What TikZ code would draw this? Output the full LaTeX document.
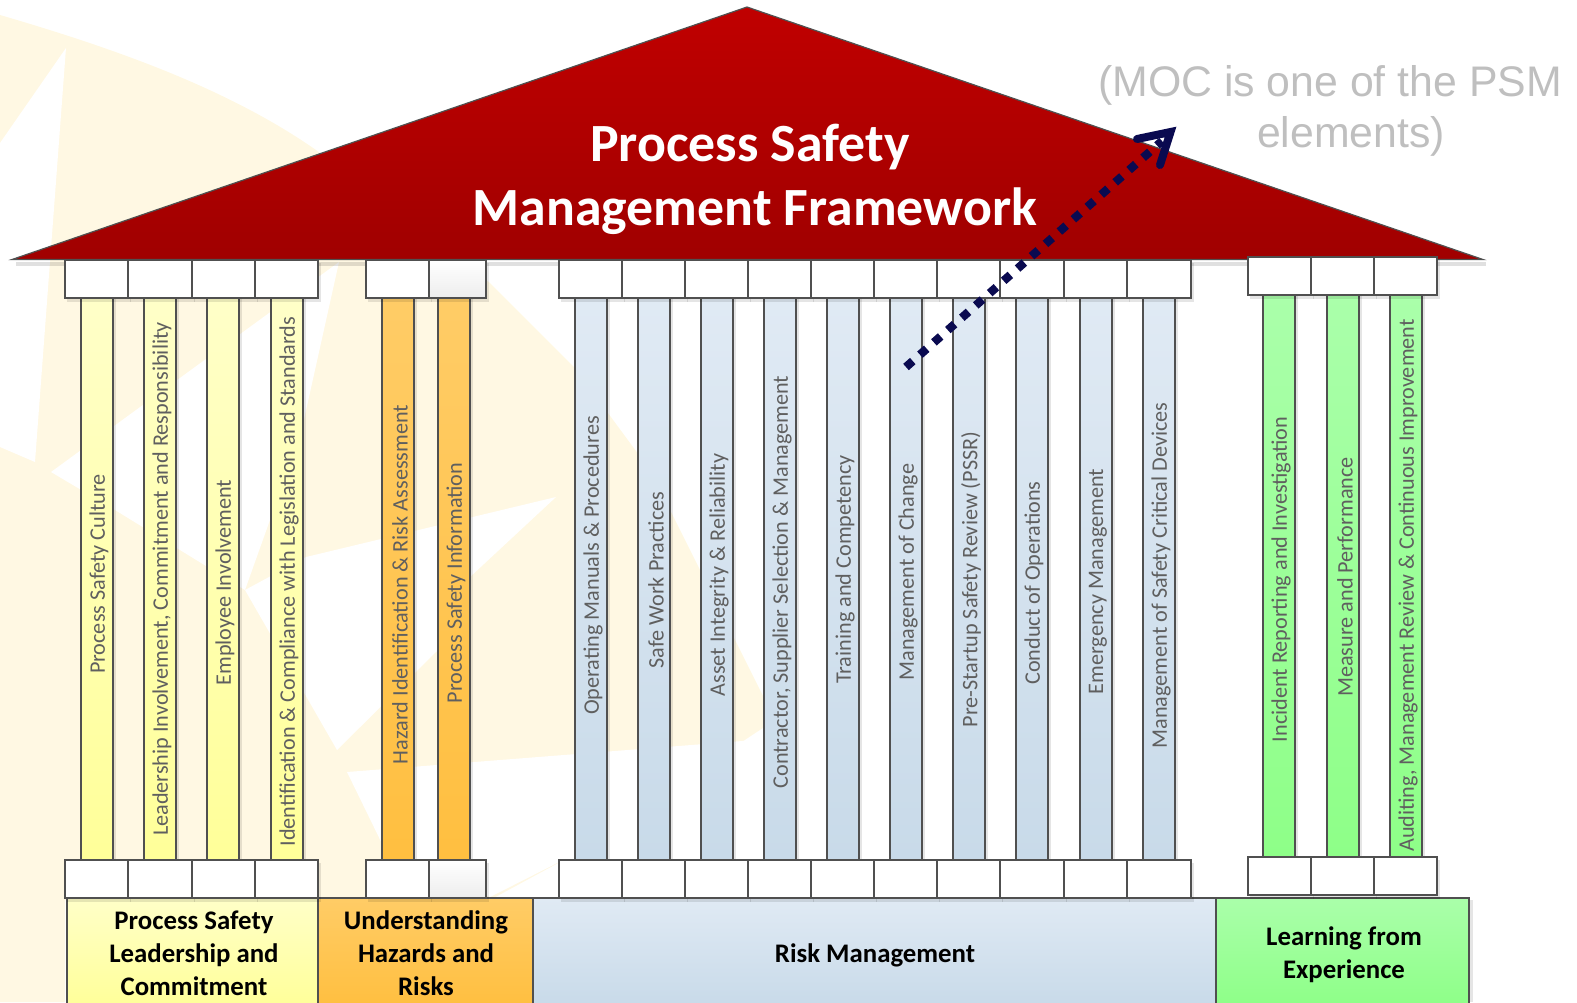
\documentclass[tikz,border=0pt]{standalone}
\usepackage{fontspec}
\setmainfont{Carlito}
\newfontfamily\mocfont{Liberation Sans}
\tikzset{
  x=0.5pt,y=-0.5pt,
  edge/.style={draw=edgegrey,line width=0.8pt},
  capbox/.style={edge,fill=white},
  shadowbox/.style={fill=black,opacity=0.10,draw=none},
  ptext/.style={text=textgrey,font=\fontsize{11.1pt}{12pt}\selectfont,inner sep=0pt,rotate=90,anchor=center},
  btext/.style={text=black,font=\fontsize{13.4pt}{16.4pt}\selectfont\bfseries,align=center,inner sep=0pt},
  titletext/.style={text=white,font=\fontsize{26.9pt}{30pt}\selectfont\bfseries,inner sep=0pt,anchor=base},
  moctext/.style={text=mocgrey,font=\fontsize{21.4pt}{25pt}\selectfont\mocfont,inner sep=0pt,anchor=base},
}
\definecolor{edgegrey}{HTML}{505050}
\definecolor{textgrey}{HTML}{5F5F5F}
\definecolor{mocgrey}{HTML}{BFBFBF}
\definecolor{pale}{HTML}{FFF8E3}
\definecolor{navy}{HTML}{0A0A50}
\definecolor{yt}{HTML}{FFFFC8}\definecolor{yb}{HTML}{FFFF99}
\definecolor{ot}{HTML}{FFCC66}\definecolor{ob}{HTML}{FFBF40}
\definecolor{bt}{HTML}{E0EAF4}\definecolor{bb}{HTML}{C8DAE9}
\definecolor{gt}{HTML}{AAFFAA}\definecolor{gb}{HTML}{8EFF88}
\definecolor{rt}{HTML}{C00000}\definecolor{rb}{HTML}{A00000}
% \pillar{name}{left x}{colour prefix}{top y}{bottom y}{text bottom}{text top}{text}
\newcommand{\pillar}[8]{%
  \pgfmathsetmacro{\pxr}{#2+32}\pgfmathsetmacro{\pxc}{#2+18}
  \pgfmathsetmacro{\pyc}{(#6+#7)/2}
  \fill[shadowbox] (\pxr,#4) rectangle (\pxr+3,#5);
  \shade[top color=#3t,bottom color=#3b] (#2,#4) rectangle (\pxr,#5);
  \draw[edge] (#2,#4) -- (#2,#5) (\pxr,#4) -- (\pxr,#5);
  \node[ptext] (#1) at (\pxc,\pyc) {#8};
}
% \capbox{left}{right}{top}{bottom}
\newcommand{\pcap}[4]{%
  \fill[shadowbox] (#1+2,#3+3) rectangle (#2+3,#4+4);
  \draw[capbox] (#1,#3) rectangle (#2,#4);
}
\begin{document}
\begin{tikzpicture}
\useasboundingbox (0,0) rectangle (1577,1002);
\clip (0,0) rectangle (1577,1002);
% background sun
\fill[pale] (0,15) .. controls (120,50) and (230,90) .. (316,150) -- (490,283)
  -- (574,367) -- (650,470) -- (775,720) -- (560,862) -- (490,900) -- (65,900)
  -- (65,1002) -- (0,1002) -- cycle;
\fill[white] (66,48) -- (0,143) -- (0,447) -- (35,462) -- cycle;
\fill[white] (51,472) -- (339,262) -- (301,433) -- (245,590) -- (115,510) -- cycle;
\fill[white] (306,557) -- (556,497) -- (470,577) -- (438,650) -- (337,750) -- (245,590) -- cycle;
\fill[white] (347,772) -- (755,740) -- (675,790) -- (569,857) -- (490,897) -- (390,860) -- cycle;
% roof
\fill[black,opacity=0.12] (16,262) -- (1486,262) -- (1486,266) -- (16,266) -- cycle;
\shade[top color=rt,bottom color=rb,draw=edgegrey,line width=0.6pt]
  (12,259.5) -- (747,7) -- (1483,259.5) -- cycle;
\node[titletext] (title1) at (750,161) {Process Safety};
\node[titletext] (title2) at (755,225.5) {Management Framework};
% pillars
\pillar{p1}{81}{y}{298}{860}{674}{474}{Process Safety Culture}
\pillar{p2}{144}{y}{298}{860}{837}{321}{Leadership Involvement, Commitment and Responsibility}
\pillar{p3}{207}{y}{298}{860}{688}{477}{Employee Involvement}
\pillar{p4}{271}{y}{298}{860}{848}{315}{Identification \& Compliance with Legislation and Standards}
\pillar{p5}{382}{o}{298}{860}{765}{404}{Hazard Identification \& Risk Assessment}
\pillar{p6}{438}{o}{298}{860}{705}{461}{Process Safety Information}
\pillar{p7}{575}{b}{298}{860}{715}{416}{Operating Manuals \& Procedures}
\pillar{p8}{638}{b}{298}{860}{670}{490}{Safe Work Practices}
\pillar{p9}{701}{b}{298}{860}{697}{453}{Asset Integrity \& Reliability}
\pillar{p10}{764}{b}{298}{860}{790}{374}{Contractor, Supplier Selection \& Management}
\pillar{p11}{827}{b}{298}{860}{686}{453}{Training and Competency}
\pillar{p12}{890}{b}{298}{860}{681}{463}{Management of Change}
\pillar{p13}{953}{b}{298}{860}{728}{431}{Pre-Startup Safety Review (PSSR)}
\pillar{p14}{1016}{b}{298}{860}{685}{481}{Conduct of Operations}
\pillar{p15}{1080}{b}{298}{860}{694}{469}{Emergency Management}
\pillar{p16}{1143}{b}{298}{860}{749}{402}{Management of Safety Critical Devices}
\pillar{p17}{1263}{g}{295}{857}{743}{416}{Incident Reporting and Investigation}
\pillar{p18}{1327}{g}{295}{857}{697}{457}{Measure and Performance}
\pillar{p19}{1390}{g}{295}{857}{855}{316}{Auditing, Management Review \& Continuous Improvement}
% base
\shade[top color=yt,bottom color=yb,edge] (67,898) rectangle (318,1006);
\shade[top color=ot,bottom color=ob,edge] (318,898) rectangle (533,1006);
\shade[top color=bt,bottom color=bb,edge] (533,898) rectangle (1216,1006);
\fill[shadowbox] (1469,900) rectangle (1473,1002);
\shade[top color=gt,bottom color=gb,edge] (1216,898) rectangle (1469,1006);
\node[btext] (b1) at (194,953) {Process Safety\\Leadership and\\Commitment};
\node[btext] (b2) at (426,953) {Understanding\\Hazards and\\Risks};
\node[btext] (b3) at (875,955) {Risk Management};
\node[btext] (b4) at (1344,955) {Learning from\\Experience};
% capitals
\foreach \a/\b in {65/128,128/192,192/255,255/318,366/429,559/622,622/685,685/748,748/811,811/874,874/937,937/1000,1000/1064,1064/1127,1127/1191}{
  \pcap{\a}{\b}{260}{298}\pcap{\a}{\b}{860}{898}}
\foreach \a/\b in {429/486}{
  \fill[shadowbox] (\a+2,263) rectangle (\b+3,302);
  \shade[top color=white,bottom color=black!7,edge] (\a,260) rectangle (\b,298);
  \fill[shadowbox] (\a+2,863) rectangle (\b+3,902);
  \shade[top color=white,bottom color=black!7,edge] (\a,860) rectangle (\b,898);}
\foreach \a/\b in {1248/1311,1311/1374,1374/1437}{
  \pcap{\a}{\b}{257}{295}\pcap{\a}{\b}{857}{895}}
% note and arrow
\node[moctext] (moc1) at (1330,96) {(MOC is one of the PSM};
\node[moctext] (moc2) at (1351,147) {elements)};
\coordinate (arrowstart) at (906,367);
\coordinate (arrowend) at (1162,141);
\coordinate (arrowtip) at (1170.5,132);
\coordinate (barbA) at (1137,139);
\coordinate (barbB) at (1160,165);
\draw[navy,line width=4.2pt,dash pattern=on 4.5pt off 4.8pt] (arrowstart) -- (arrowend);
\draw[navy,line width=4pt,line cap=round,line join=miter,miter limit=10] (barbA) -- (arrowtip) -- (barbB);
\end{tikzpicture}
\end{document}
